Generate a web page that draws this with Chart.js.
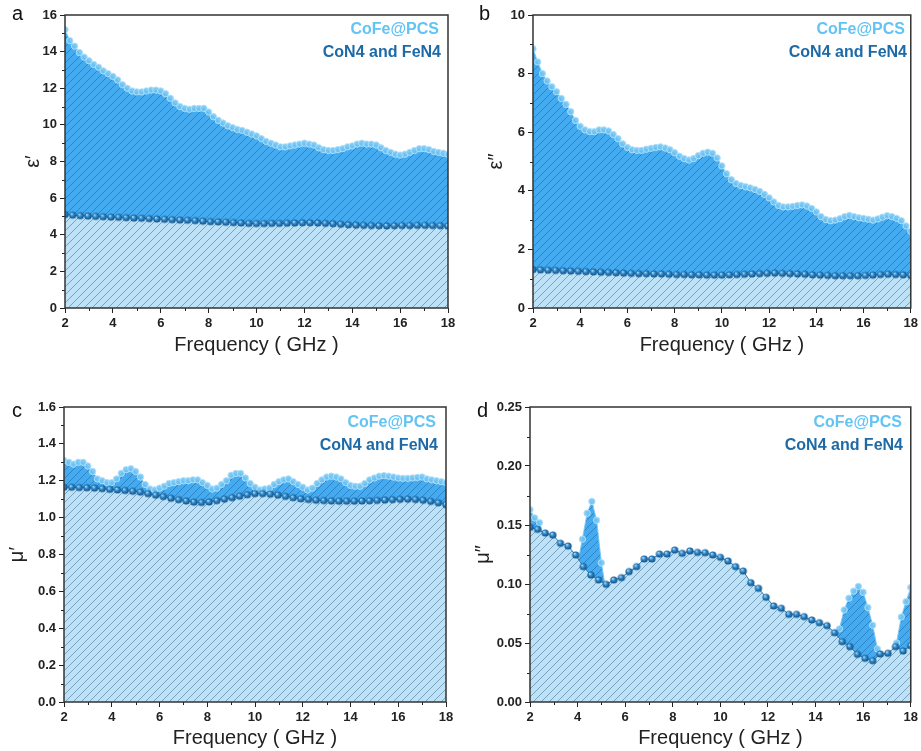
<!DOCTYPE html>
<html>
<head>
<meta charset="utf-8">
<script src="https://cdn.jsdelivr.net/npm/chart.js@4.4.1/dist/chart.umd.min.js"></script>
<style>
  body { margin:0; background:#fff; width:921px; height:751px; position:relative; overflow:hidden; font-family:"Liberation Sans", Arial, sans-serif; }
  canvas { position:absolute; }
  .tag { position:absolute; font-size:20px; line-height:1; color:#111; }
  .leg { position:absolute; font-weight:bold; font-size:16px; line-height:1; white-space:nowrap; transform:translate(-100%,-50%); }
  .leg.pcs { color:#63c4f3; }
  .leg.n4 { color:#1d6aa7; }
</style>
</head>
<body>
<canvas id="cA" width="460" height="375" style="left:0;top:0"></canvas>
<canvas id="cB" width="461" height="375" style="left:460px;top:0"></canvas>
<canvas id="cC" width="460" height="376" style="left:0;top:375px"></canvas>
<canvas id="cD" width="461" height="376" style="left:460px;top:375px"></canvas>

<div class="tag" style="left:12px;top:3px">a</div>
<div class="tag" style="left:479px;top:3px">b</div>
<div class="tag" style="left:12px;top:400px">c</div>
<div class="tag" style="left:477px;top:400px">d</div>

<div class="leg pcs" style="left:439px;top:29px">CoFe@PCS</div>
<div class="leg n4" style="left:441px;top:52px">CoN4 and FeN4</div>
<div class="leg pcs" style="left:905px;top:29px">CoFe@PCS</div>
<div class="leg n4" style="left:907px;top:52px">CoN4 and FeN4</div>
<div class="leg pcs" style="left:436px;top:422px">CoFe@PCS</div>
<div class="leg n4" style="left:438px;top:445px">CoN4 and FeN4</div>
<div class="leg pcs" style="left:902px;top:422px">CoFe@PCS</div>
<div class="leg n4" style="left:903px;top:445px">CoN4 and FeN4</div>

<script>
// frequency grids (GHz)
const freqPCS = [2,2.2,2.4,2.6,2.8,3,3.2,3.4,3.6,3.8,4,4.2,4.4,4.6,4.8,5,5.2,5.4,5.6,5.8,6,6.2,6.4,6.6,6.8,7,7.2,7.4,7.6,7.8,8,8.2,8.4,8.6,8.8,9,9.2,9.4,9.6,9.8,10,10.2,10.4,10.6,10.8,11,11.2,11.4,11.6,11.8,12,12.2,12.4,12.6,12.8,13,13.2,13.4,13.6,13.8,14,14.2,14.4,14.6,14.8,15,15.2,15.4,15.6,15.8,16,16.2,16.4,16.6,16.8,17,17.2,17.4,17.6,17.8,18];
const freqN4 = [2.00,2.32,2.64,2.96,3.28,3.60,3.92,4.24,4.56,4.88,5.20,5.52,5.84,6.16,6.48,6.80,7.12,7.44,7.76,8.08,8.40,8.72,9.04,9.36,9.68,10.00,10.32,10.64,10.96,11.28,11.60,11.92,12.24,12.56,12.88,13.20,13.52,13.84,14.16,14.48,14.80,15.12,15.44,15.76,16.08,16.40,16.72,17.04,17.36,17.68,18.00];

// a: epsilon'
const epsRealPCS = [15.2,14.6,14.3,13.95,13.7,13.5,13.3,13.15,12.95,12.8,12.65,12.45,12.2,12.0,11.85,11.8,11.8,11.85,11.9,11.9,11.85,11.7,11.45,11.2,11.0,10.9,10.85,10.9,10.9,10.9,10.7,10.45,10.25,10.1,9.95,9.85,9.75,9.7,9.6,9.5,9.4,9.25,9.1,9.0,8.9,8.8,8.8,8.85,8.9,8.95,9.0,8.95,8.9,8.75,8.65,8.6,8.6,8.65,8.7,8.8,8.85,8.95,9.0,8.95,8.95,8.9,8.75,8.6,8.5,8.4,8.35,8.4,8.5,8.6,8.7,8.7,8.65,8.55,8.5,8.45,8.4];
const epsRealN4 = [5.10,5.07,5.04,5.02,5.00,4.98,4.96,4.95,4.93,4.91,4.90,4.88,4.86,4.84,4.82,4.80,4.79,4.77,4.74,4.71,4.70,4.68,4.66,4.64,4.62,4.61,4.61,4.62,4.62,4.63,4.64,4.65,4.65,4.64,4.62,4.60,4.57,4.54,4.52,4.51,4.50,4.49,4.48,4.49,4.50,4.50,4.51,4.51,4.50,4.49,4.47];

// b: epsilon''
const epsImagPCS = [8.85,8.4,8.0,7.75,7.55,7.38,7.15,6.95,6.7,6.4,6.2,6.08,6.02,6.02,6.08,6.08,6.04,5.92,5.78,5.6,5.48,5.4,5.38,5.38,5.42,5.45,5.48,5.5,5.46,5.4,5.3,5.18,5.1,5.05,5.1,5.2,5.28,5.32,5.28,5.12,4.85,4.58,4.38,4.25,4.18,4.14,4.1,4.05,3.98,3.88,3.76,3.62,3.5,3.45,3.45,3.47,3.5,3.52,3.48,3.4,3.28,3.12,3.02,2.98,3.0,3.05,3.12,3.16,3.12,3.08,3.06,3.03,3.0,3.04,3.1,3.15,3.12,3.06,2.98,2.8,2.62];
const epsImagN4 = [1.31,1.30,1.29,1.28,1.27,1.26,1.25,1.24,1.23,1.22,1.21,1.20,1.19,1.18,1.17,1.17,1.16,1.16,1.15,1.14,1.14,1.13,1.13,1.12,1.12,1.12,1.13,1.14,1.15,1.16,1.17,1.18,1.19,1.18,1.17,1.16,1.15,1.13,1.12,1.11,1.10,1.10,1.10,1.10,1.11,1.12,1.14,1.15,1.14,1.13,1.11];

// c: mu'
const muRealPCS = [1.31,1.30,1.29,1.30,1.30,1.28,1.25,1.21,1.20,1.19,1.19,1.21,1.24,1.26,1.265,1.25,1.22,1.18,1.155,1.15,1.16,1.17,1.185,1.19,1.195,1.20,1.20,1.205,1.205,1.19,1.175,1.155,1.16,1.18,1.20,1.23,1.24,1.24,1.215,1.185,1.165,1.15,1.155,1.16,1.18,1.195,1.205,1.21,1.195,1.18,1.165,1.15,1.16,1.185,1.205,1.22,1.225,1.22,1.21,1.19,1.175,1.17,1.17,1.185,1.205,1.215,1.225,1.228,1.225,1.22,1.215,1.213,1.213,1.215,1.218,1.22,1.21,1.205,1.2,1.195,1.19];
const muRealN4 = [1.165,1.165,1.163,1.162,1.160,1.157,1.153,1.150,1.147,1.143,1.138,1.130,1.122,1.114,1.105,1.097,1.090,1.084,1.082,1.085,1.092,1.100,1.108,1.116,1.124,1.130,1.130,1.127,1.122,1.115,1.108,1.102,1.098,1.094,1.092,1.090,1.089,1.089,1.089,1.090,1.091,1.093,1.095,1.097,1.099,1.100,1.098,1.094,1.088,1.080,1.070];

// d: mu''
const muImagPCS = [0.163,0.156,0.152,0.138,0.136,0.134,0.130,0.127,0.125,0.121,0.117,0.138,0.160,0.170,0.154,0.118,0.093,0.096,0.098,0.099,0.102,0.106,0.109,0.113,0.115,0.116,0.117,0.119,0.120,0.121,0.122,0.121,0.121,0.121,0.121,0.120,0.120,0.119,0.118,0.117,0.116,0.113,0.111,0.108,0.104,0.099,0.094,0.091,0.087,0.083,0.079,0.075,0.073,0.071,0.068,0.068,0.067,0.066,0.064,0.063,0.061,0.060,0.058,0.055,0.053,0.062,0.078,0.088,0.094,0.098,0.093,0.080,0.065,0.045,0.034,0.035,0.038,0.050,0.072,0.085,0.097];
const muImagN4 = [0.148,0.1463,0.1432,0.1415,0.1345,0.1322,0.1246,0.1147,0.1076,0.1034,0.0997,0.1034,0.1054,0.1105,0.1147,0.1212,0.1212,0.1254,0.1254,0.1288,0.126,0.128,0.1268,0.1265,0.1246,0.1226,0.1195,0.1147,0.111,0.1011,0.0963,0.0887,0.0814,0.0794,0.0743,0.0743,0.0723,0.0695,0.0672,0.0647,0.0587,0.0511,0.0469,0.0404,0.037,0.035,0.0407,0.0413,0.0469,0.0432,0.0477];

// tick labels
const xTicks = ['2','4','6','8','10','12','14','16','18'];
const yTicksA = ['0','2','4','6','8','10','12','14','16'];
const yTicksB = ['0','2','4','6','8','10'];
const yTicksC = ['0.0','0.2','0.4','0.6','0.8','1.0','1.2','1.4','1.6'];
const yTicksD = ['0.00','0.05','0.10','0.15','0.20','0.25'];

(function(){
  const FONT = '"Liberation Sans", Arial, sans-serif';

  function hatch(bg, line){
    const s = 8, c = document.createElement('canvas');
    c.width = c.height = s;
    const g = c.getContext('2d');
    g.fillStyle = bg; g.fillRect(0, 0, s, s);
    g.strokeStyle = line; g.lineWidth = 1;
    g.beginPath();
    g.moveTo(0, s); g.lineTo(s, 0);
    g.moveTo(-1, 1); g.lineTo(1, -1);
    g.moveTo(s - 1, s + 1); g.lineTo(s + 1, s - 1);
    g.stroke();
    return g.createPattern(c, 'repeat');
  }

  function sphere(r){
    const s = Math.ceil(r * 2 + 2), c = document.createElement('canvas');
    c.width = c.height = s;
    const g = c.getContext('2d');
    const grad = g.createRadialGradient(s/2 - r*0.35, s/2 - r*0.4, r*0.1, s/2, s/2, r);
    grad.addColorStop(0, '#a8dbf7');
    grad.addColorStop(0.45, '#2b86c8');
    grad.addColorStop(1, '#0e4d84');
    g.fillStyle = grad;
    g.beginPath(); g.arc(s/2, s/2, r, 0, Math.PI * 2); g.fill();
    return c;
  }

  const fillPCS = hatch('#44abf1', '#2d84c6');
  const fillN4 = hatch('#bde2f7', '#7aa2be');
  const ball = sphere(3.6);

  // box frame + minor ticks
  const framePlugin = {
    id: 'frame',
    afterDraw(chart, args, opts){
      const { ctx, chartArea: a, scales: { x, y } } = chart;
      ctx.save();
      ctx.strokeStyle = '#222'; ctx.lineWidth = 1;
      ctx.beginPath();
      for (let v = x.min + 1; v < x.max; v += 2) {
        const px = Math.round(x.getPixelForValue(v)) + 0.5;
        ctx.moveTo(px, a.bottom); ctx.lineTo(px, a.bottom + 3);
      }
      for (let v = y.min + opts.minor; v < y.max; v += opts.minor * 2) {
        const py = Math.round(y.getPixelForValue(v)) + 0.5;
        ctx.moveTo(a.left, py); ctx.lineTo(a.left - 3, py);
      }
      ctx.stroke();
      ctx.strokeStyle = '#333'; ctx.lineWidth = 1.5;
      ctx.strokeRect(a.left, a.top, a.right - a.left, a.bottom - a.top);
      ctx.restore();
    }
  };

  function pts(xs, ys){ return xs.map((f, i) => ({ x: f, y: ys[i] })); }

  function makeChart(id, p){
    new Chart(document.getElementById(id), {
      type: 'line',
      data: {
        datasets: [
          { label: 'CoN4 and FeN4', data: pts(freqN4, p.n4), fill: 'origin', backgroundColor: fillN4,
            borderColor: '#2a78b5', borderWidth: 1, tension: 0,
            pointStyle: ball, pointRadius: 3.6 },
          { label: 'CoFe@PCS', data: pts(freqPCS, p.pcs), fill: 'origin', backgroundColor: fillPCS,
            borderColor: 'rgba(120,200,245,0.9)', borderWidth: 1, tension: 0,
            pointStyle: 'circle', pointRadius: 3.2, pointBorderWidth: 1,
            pointBackgroundColor: 'rgba(112,196,244,0.9)', pointBorderColor: 'rgba(178,224,250,0.95)' }
        ]
      },
      options: {
        responsive: false, animation: false, events: [],
        layout: { padding: { left: 0, top: p.top, right: p.right, bottom: 0 } },
        plugins: { legend: { display: false }, tooltip: { enabled: false }, frame: { minor: p.step / 2 } },
        scales: {
          x: {
            type: 'linear', min: 2, max: 18,
            afterFit: s => { s.height = p.xh; },
            border: { display: false },
            grid: { drawOnChartArea: false, tickLength: 5, color: '#222' },
            ticks: { stepSize: 2, padding: 3, color: '#222', font: { family: FONT, size: 13, weight: 'bold' },
              callback: (v, i) => xTicks[i] },
            title: { display: true, text: 'Frequency ( GHz )', color: '#222',
              font: { family: FONT, size: 20, lineHeight: 1.2 }, padding: { top: 0, bottom: p.xtb } }
          },
          y: {
            min: 0, max: p.max,
            afterFit: s => { s.width = p.yw; },
            border: { display: false },
            grid: { drawOnChartArea: false, tickLength: 5, color: '#222' },
            ticks: { stepSize: p.step, padding: 3, color: '#222', font: { family: FONT, size: 13, weight: 'bold' },
              callback: (v, i) => p.labels[i] },
            title: { display: true, text: p.title, color: '#222',
              font: { family: FONT, size: 20, lineHeight: 1.2 }, padding: { top: p.ytp, bottom: 0 } }
          }
        }
      },
      plugins: [framePlugin]
    });
  }

  makeChart('cA', { pcs: epsRealPCS, n4: epsRealN4, max: 16, step: 2, labels: yTicksA, title: 'ε′',
    top: 15, right: 12, yw: 65, xh: 67, xtb: 18, ytp: 21 });
  makeChart('cB', { pcs: epsImagPCS, n4: epsImagN4, max: 10, step: 2, labels: yTicksB, title: 'ε″',
    top: 15, right: 7, yw: 73, xh: 67, xtb: 18, ytp: 24 });
  makeChart('cC', { pcs: muRealPCS, n4: muRealN4, max: 1.6, step: 0.2, labels: yTicksC, title: 'μ′',
    top: 32, right: 14, yw: 64, xh: 49, xtb: 1, ytp: 5 });
  makeChart('cD', { pcs: muImagPCS, n4: muImagN4, max: 0.25, step: 0.05, labels: yTicksD, title: 'μ″',
    top: 32, right: 9, yw: 70, xh: 49, xtb: 1, ytp: 11 });
})();
</script>
</body>
</html>
